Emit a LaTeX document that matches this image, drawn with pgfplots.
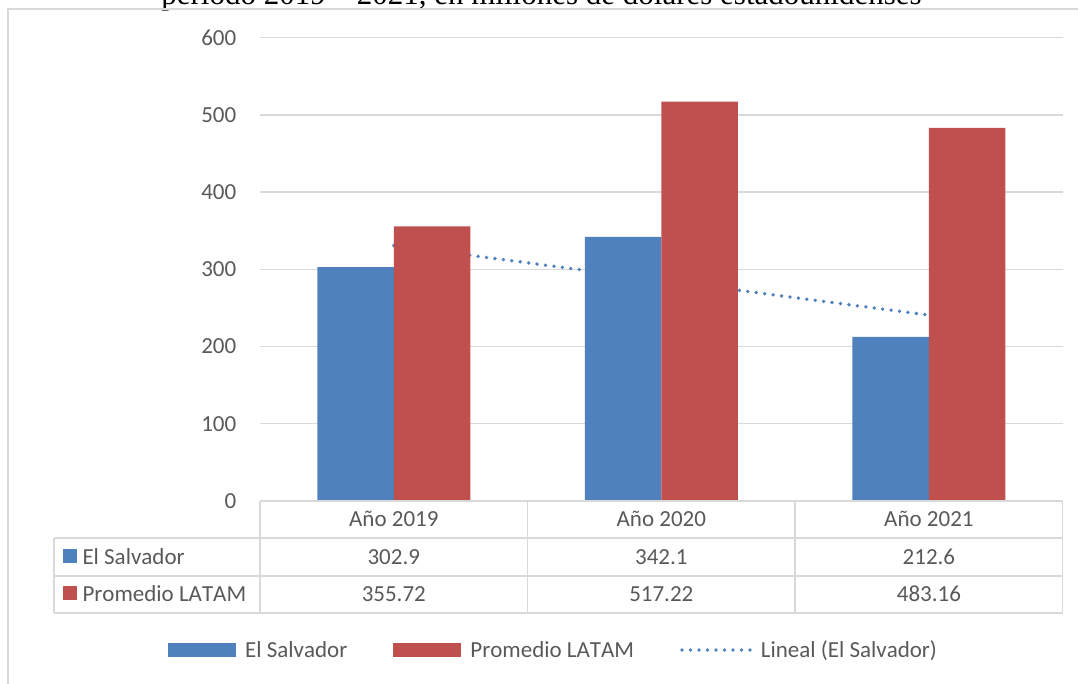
\documentclass[border=0pt]{standalone}
\usepackage{pgfplots}
\pgfplotsset{compat=1.18}
\usepackage{fontspec}
\setmainfont{Carlito}[Kerning=Off]
\newfontfamily\titlefont{Liberation Serif}
\definecolor{esblue}{HTML}{4F81BD}
\definecolor{lared}{HTML}{C0504D}
\definecolor{gridgray}{HTML}{D9D9D9}
\definecolor{txtgray}{HTML}{595959}
\pgfplotsset{
  barleg/.style={legend image code/.code={\fill[##1, draw=none] (0pt,-7pt) rectangle (68pt,7pt);}},
  lineleg/.style={legend image code/.code={\draw[##1] (0pt,0pt) -- (68pt,0pt);}},
}
\newcommand{\cf}{\fontsize{23}{27}\selectfont}
\begin{document}
\begin{tikzpicture}[x=1pt,y=1pt]
\useasboundingbox (0,0) rectangle (1078,684);
\clip (0,0) rectangle (1078,684);
\node[anchor=base, font=\titlefont\fontsize{31}{36}\selectfont, inner sep=0pt] at (541.5,679) {periodo 2019 – 2021, en millones de dólares estadounidenses};
\draw[gridgray, line width=1.3pt] (8,-20) rectangle (1100,675);
\begin{axis}[
  at={(260pt,183pt)}, anchor=south west,
  scale only axis, width=802.7pt, height=463.3pt,
  xmin=0.5, xmax=3.5, ymin=0, ymax=600,
  ytick={0,100,...,600}, xtick=\empty,
  ymajorgrids, grid style={gridgray, line width=1.3pt},
  axis line style={draw=none}, major tick length=0pt,
  yticklabel style={inner sep=0pt, xshift=-23.5pt, font=\cf, text=txtgray},
  /pgf/number format/assume math mode=true,
  clip=false,
  legend columns=3,
  legend style={at={(-0.1146,-0.3216)}, anchor=west, draw=none, fill=none,
    inner sep=0pt, font=\cf, text=txtgray,
    /tikz/every odd column/.append style={column sep=7pt},
    /tikz/every even column/.append style={column sep=44pt}},
]
\addplot[forget plot, esblue, line width=3.8pt, line cap=round, dash pattern=on 0pt off 8.5pt] coordinates {(1,331.02) (3,240.72)};
\addplot[forget plot, ybar, bar width=76.5pt, bar shift=-38.25pt, fill=esblue, draw=none] coordinates {(1,302.9) (2,342.1) (3,212.6)};
\addplot[forget plot, ybar, bar width=76.5pt, bar shift=38.25pt, fill=lared, draw=none] coordinates {(1,355.72) (2,517.22) (3,483.16)};
\addlegendimage{barleg, fill=esblue}
\addlegendentry{El Salvador}
\addlegendimage{barleg, fill=lared}
\addlegendentry{Promedio LATAM}
\addlegendimage{lineleg, esblue, line width=3.8pt, line cap=round, dash pattern=on 0pt off 8.5pt}
\addlegendentry{Lineal (El Salvador)}
\end{axis}
\begin{scope}[gridgray, line width=1.3pt]
\draw (260,183) -- (1062.7,183);
\draw (54,146) -- (1062.7,146);
\draw (54,108) -- (1062.7,108);
\draw (54,71) -- (1062.7,71);
\draw (54,71) -- (54,146);
\draw (260,71) -- (260,183);
\draw (527.6,71) -- (527.6,183);
\draw (795.1,71) -- (795.1,183);
\draw (1062.7,71) -- (1062.7,183);
\end{scope}
\begin{scope}[every node/.style={font=\cf, text=txtgray, inner sep=0pt}]
\node[anchor=base] at (393.8,157.1) {Año 2019};
\node[anchor=base] at (661.3,157.1) {Año 2020};
\node[anchor=base] at (928.9,157.1) {Año 2021};
\node[anchor=base] at (393.8,119.6) {302.9};
\node[anchor=base] at (661.3,119.6) {342.1};
\node[anchor=base] at (928.9,119.6) {212.6};
\node[anchor=base] at (393.8,82.1) {355.72};
\node[anchor=base] at (661.3,82.1) {517.22};
\node[anchor=base] at (928.9,82.1) {483.16};
\fill[esblue] (63,121.3) rectangle (76.7,135);
\fill[lared] (63,83.8) rectangle (76.7,97.5);
\node[anchor=base west] at (82.3,119.6) {El Salvador};
\node[anchor=base west] at (82.3,82.1) {Promedio LATAM};
\end{scope}
\end{tikzpicture}
\end{document}
